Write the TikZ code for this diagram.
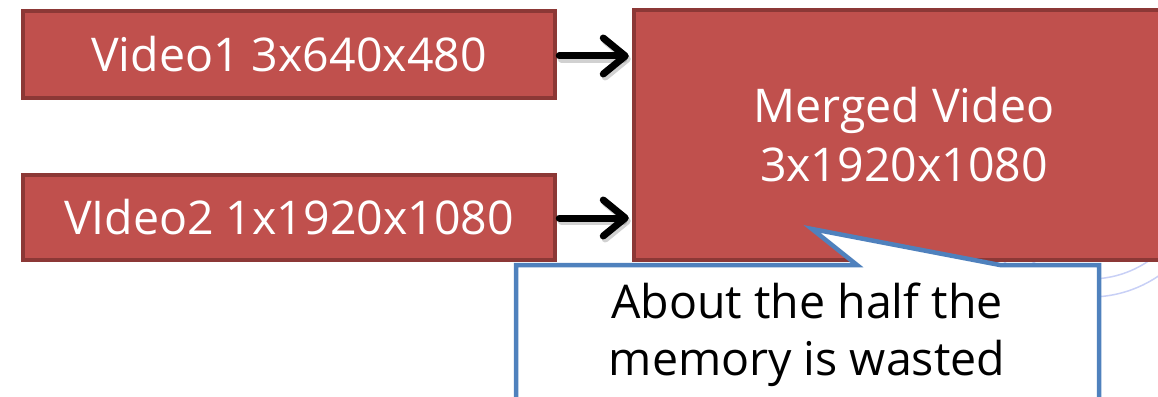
\documentclass[tikz,border=0pt]{standalone}
\usepackage{fontspec}
\setmainfont{Open Sans}
\usetikzlibrary{arrows.meta}
\definecolor{boxred}{HTML}{C0504D}
\definecolor{boxedge}{HTML}{8C3836}
\definecolor{noteblue}{HTML}{4F81BD}
\definecolor{ringblue}{HTML}{C8D0F6}
\tikzset{
  redbox/.style={draw=boxedge, line width=4.5pt, fill=boxred, text=white,
    inner sep=0pt, align=center, font=\fontsize{46.5}{59}\selectfont},
  flow/.style={line width=7pt, line cap=round, line join=round,
    -{Straight Barb[length=22pt,width=36pt,round]}},
  flowshadow/.style={flow, draw=black, opacity=0.18},
  notebox/.style={draw=noteblue, line width=4.5pt, fill=white, line join=miter},
  notetext/.style={inner sep=0pt, align=center, text=black,
    font=\fontsize{46.5}{57}\selectfont},
  ring/.style={draw=ringblue, line width=1.5pt}
}
\begin{document}
\begin{tikzpicture}[x=1pt,y=-1pt]
  \useasboundingbox (0,0) rectangle (1158,396);
  \clip (0,0) rectangle (1158,396);

  % faint decorative rings behind the boxes
  \draw[ring] (1090,175) circle[radius=104];
  \draw[ring] (1090,175) circle[radius=122];

  % inputs and merged output
  \node[redbox, minimum width=532pt, minimum height=87pt] (v1) at (289,54.5) {Video1 3x640x480};
  \node[redbox, minimum width=532pt, minimum height=85pt] (v2) at (289,217.5) {VIdeo2 1x1920x1080};
  \node[redbox, minimum width=540pt, minimum height=250pt] (mv) at (904,135) {Merged Video\\3x1920x1080};

  % connectors
  \coordinate (a1) at ([xshift=2pt,yshift=-1.5pt]v1.east);
  \coordinate (a2) at ([xshift=2pt,yshift=-0.5pt]v2.east);
  \coordinate (b1) at ([xshift=-3pt]a1 -| mv.west);
  \coordinate (b2) at ([xshift=-3pt]a2 -| mv.west);
  \draw[flowshadow, transform canvas={shift={(2pt,-3pt)}}] (a1) -- (b1);
  \draw[flowshadow, transform canvas={shift={(2pt,-3pt)}}] (a2) -- (b2);
  \draw[flow] (a1) -- (b1);
  \draw[flow] (a2) -- (b2);

  % callout pointing into the merged box
  \coordinate (tip) at (812,229);
  \draw[notebox] (516,265) -- (857,265) -- (tip) -- (1000,265) -- (1099,265)
    -- (1099,410) -- (516,410) -- cycle;
  \node[notetext, anchor=north] (note) at (807,283) {About the half the\\memory is wasted};
\end{tikzpicture}
\end{document}
